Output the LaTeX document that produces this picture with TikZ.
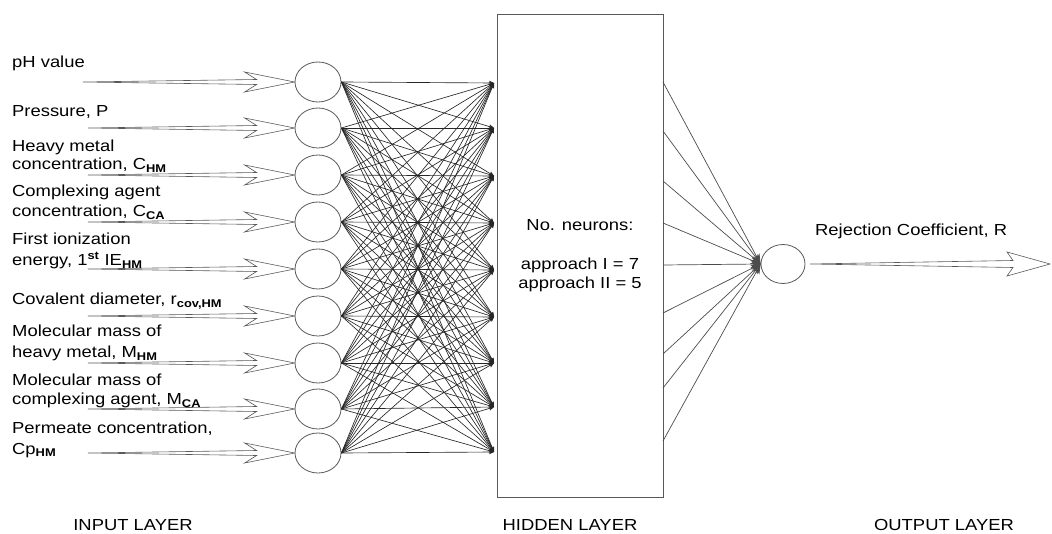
\documentclass[tikz,border=0pt]{standalone}
\usepackage{fontspec}
\setmainfont{Liberation Sans}[FakeStretch=1.15]
\usetikzlibrary{arrows.meta,shapes.geometric,calc}
\newcommand{\sbs}[1]{\textsubscript{\bfseries #1}}

\begin{document}
\begin{tikzpicture}[x=1pt,y=-1pt,
  neuron/.style={ellipse,draw=black!65,line width=0.8pt,minimum width=46pt,minimum height=40pt,inner sep=0pt},
  link/.style={draw=black!85,line width=0.65pt,-{Stealth[length=5pt,width=4.5pt]}},
  outlink/.style={draw=black!70,line width=0.7pt,-{Stealth[length=10pt,width=8pt]}},
  lbl/.style={font=\fontsize{16}{20}\selectfont,anchor=base west,align=left,inner sep=0pt},
  layer/.style={font=\fontsize{16}{20}\selectfont,anchor=base,inner sep=0pt},
  bigarrow/.style={draw=black!65,line width=0.6pt,line join=miter}
]
\useasboundingbox (0,0) rectangle (1052,534);

% input neurons and their feed arrows
\foreach \i/\y/\t in {1/82/83,2/128/88,3/175/88,4/222/88,5/269/88,6/316/88,7/363/88,8/409/88,9/453/88}{
  \node[neuron] (in\i) at (318,\y) {};
  \coordinate (t\i) at (\t,\y);
  \draw[bigarrow] (t\i) -- ($(in\i.west)+(-38,-2.5)$) -- ($(in\i.west)+(-50,-10)$)
     -- (in\i.west) -- ($(in\i.west)+(-50,10)$) -- ($(in\i.west)+(-38,2.5)$) -- cycle;
}

% input labels (anchored at the baseline of their last line)
\node[lbl] (l1) at (12,67.5) {pH value};
\node[lbl] (l2) at (12,117) {Pressure, P};
\node[lbl] (l3) at (12,170) {Heavy metal\\[-1.5pt]concentration, C\sbs{HM}};
\node[lbl] (l4) at (12,216.5) {Complexing agent\\concentration, C\sbs{CA}};
\node[lbl] (l5) at (12,266) {First ionization\\[1pt]energy, 1\textsuperscript{\bfseries st} IE\sbs{HM}};
\node[lbl] (l6) at (12,305) {Covalent diameter, r\sbs{cov,HM}};
\node[lbl] (l7) at (12,358) {Molecular mass of\\[1pt]heavy metal, M\sbs{HM}};
\node[lbl] (l8) at (12,405) {Molecular mass of\\complexing agent, M\sbs{CA}};
\node[lbl] (l9) at (12,454) {Permeate concentration,\\[1pt]Cp\sbs{HM}};

% hidden layer
\node[draw=black!65,line width=0.8pt,minimum width=166pt,minimum height=483pt,inner sep=0pt,
      align=center,font=\fontsize{16}{19.5}\selectfont] (hid) at (580,255.5)
      {No. neurons:\\[19.5pt]approach I = 7\\approach II = 5};

\foreach \j/\y in {1/83,2/128,3/176,4/223,5/270,6/317,7/363,8/407,9/452}
  \coordinate (h\j) at (494,\y);

\foreach \i in {1,...,9}
  \foreach \j in {1,...,9}
    \draw[link] (in\i.east) -- (h\j);

% output neuron
\node[neuron,minimum width=44pt,minimum height=39pt] (out) at (783,264) {};
\foreach \k/\y in {1/82,2/131,3/181,4/223,5/265,6/313,7/354,8/388,9/441}{
  \coordinate (o\k) at (663,\y);
  \draw[outlink] (o\k) -- (out.west);
}

\coordinate (rtail) at (810,264);
\coordinate (rtip) at (1050,264);
\draw[bigarrow] (rtail) -- ($(rtip)+(-37,-3.5)$) -- ($(rtip)+(-43,-12)$) -- (rtip)
   -- ($(rtip)+(-43,12)$) -- ($(rtip)+(-37,3.5)$) -- cycle;
\node[lbl] (rc) at (815,236) {Rejection Coefficient, R};

% layer captions
\node[layer] (cin) at (133,530) {INPUT LAYER};
\node[layer] (chid) at (570,530) {HIDDEN LAYER};
\node[layer] (cout) at (944,530) {OUTPUT LAYER};
\end{tikzpicture}
\end{document}
